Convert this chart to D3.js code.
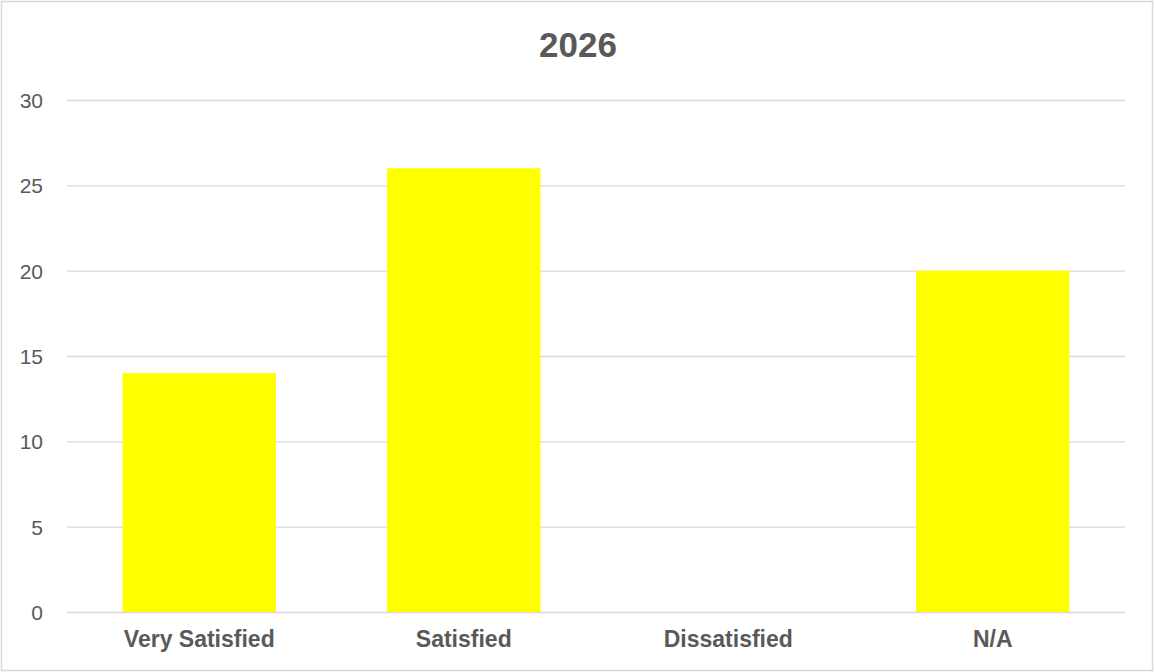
<!DOCTYPE html>
<html><head><meta charset="utf-8">
<script src="https://cdn.jsdelivr.net/npm/d3@7"></script>
<style>
html,body{margin:0;padding:0;background:#fff;}
svg{display:block;}
text{font-family:"Liberation Sans",Arial,sans-serif;}
</style></head>
<body><svg id="c" width="1154" height="672"></svg>
<script>
const categories = ["Very Satisfied","Satisfied","Dissatisfied","N/A"];
const values = [14, 26, 0, 20];
const yTicks = [0,5,10,15,20,25,30];
const title = "2026";

const svg = d3.select("#c");
const W = 1154, H = 672;
const m = {left:67, right:1125, top:100, bottom:612};

svg.append("rect").attr("x",1.5).attr("y",1.5).attr("width",W-3).attr("height",H-3)
  .attr("fill","#fff").attr("stroke","#d9d9d9").attr("stroke-width",1.5);

const x = d3.scaleBand().domain(categories).range([m.left,m.right]).paddingInner(0.42).paddingOuter(0.21);
const y = d3.scaleLinear().domain([0,30]).range([m.bottom,m.top]);

const yAxis = d3.axisLeft(y).tickValues(yTicks).tickSize(-(m.right-m.left)).tickPadding(24);
const gy = svg.append("g").attr("transform",`translate(${m.left},0)`).call(yAxis);
gy.select(".domain").remove();
gy.selectAll(".tick line").attr("stroke","#d9d9d9").attr("stroke-width",1.3);
gy.selectAll(".tick text").attr("fill","#595959").style("font-size","21px").attr("text-anchor","end").attr("dy","0.35em");

svg.append("g").selectAll("rect").data(values).join("rect")
  .attr("x",(d,i)=>x(categories[i]))
  .attr("width",x.bandwidth())
  .attr("y",d=>y(d))
  .attr("height",d=>y(0)-y(d))
  .attr("fill","#ffff00");

const xAxis = d3.axisBottom(x).tickSize(0).tickPadding(0);
const gx = svg.append("g").attr("transform",`translate(0,${m.bottom})`).call(xAxis);
gx.select(".domain").remove();
gx.selectAll(".tick text").attr("fill","#595959").attr("dy",null).attr("y",35)
  .style("font-size","23px").style("font-weight","bold");

svg.append("text").attr("x",578).attr("y",57).attr("text-anchor","middle")
  .attr("fill","#595959").style("font-size","35px").style("font-weight","bold").text(title);
</script></body></html>
